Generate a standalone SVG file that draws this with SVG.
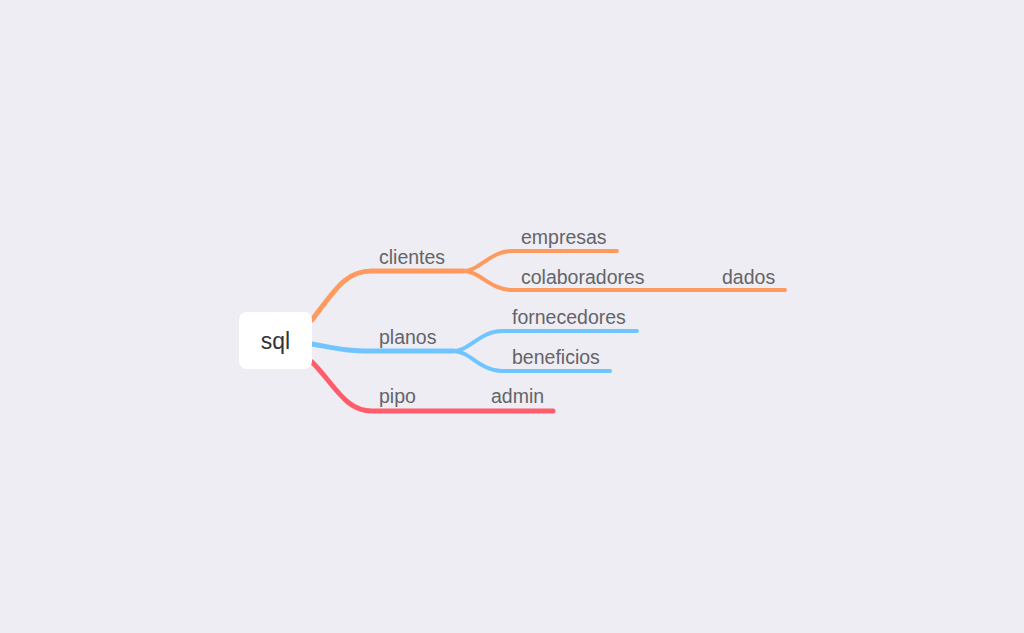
<svg xmlns="http://www.w3.org/2000/svg" width="1024" height="633" viewBox="0 0 1024 633">
<style>
.t{font-family:"Liberation Sans",Arial,sans-serif;font-size:19.5px;fill:#646469}
.c{fill:none;stroke-linecap:round}
.o{stroke:#FF9A5E}
.b{stroke:#70C4FF}
.r{stroke:#FF5C6C}
.m{stroke-width:5}
.s{stroke-width:4}
</style>
<rect width="1024" height="633" fill="#EEEDF3"/>
<g id="connectors">
<path class="c o m" d="M312,320 C335,290 345,271 372,271 L463,271"/>
<path class="c o s" d="M463,271 C480,271 490,251 512,251 L617,251"/>
<path class="c o s" d="M463,271 C480,271 490,290 512,290 L785,290"/>
<path class="c b m" d="M312,344 C335,348 345,351 372,351 L453,351"/>
<path class="c b s" d="M453,351 C470,351 480,331 502,331 L637,331"/>
<path class="c b s" d="M453,351 C470,351 480,371 502,371 L610,371"/>
<path class="c r m" d="M312,362 C335,385 345,411 372,411 L553,411"/>
</g>
<g id="root">
<rect x="239" y="312" width="73" height="57" rx="8" fill="#FFFFFF"/>
<text x="275.5" y="349" text-anchor="middle" style="font-family:'Liberation Sans',Arial,sans-serif;font-size:23px;fill:#333338">sql</text>
</g>
<g id="clientes"><text class="t" x="379" y="264">clientes</text></g>
<g id="empresas"><text class="t" x="521" y="244">empresas</text></g>
<g id="colaboradores"><text class="t" x="521" y="284">colaboradores</text></g>
<g id="dados"><text class="t" x="722" y="284">dados</text></g>
<g id="planos"><text class="t" x="379" y="344">planos</text></g>
<g id="fornecedores"><text class="t" x="512" y="324">fornecedores</text></g>
<g id="beneficios"><text class="t" x="512" y="364">beneficios</text></g>
<g id="pipo"><text class="t" x="379" y="403">pipo</text></g>
<g id="admin"><text class="t" x="491" y="403">admin</text></g>
</svg>
